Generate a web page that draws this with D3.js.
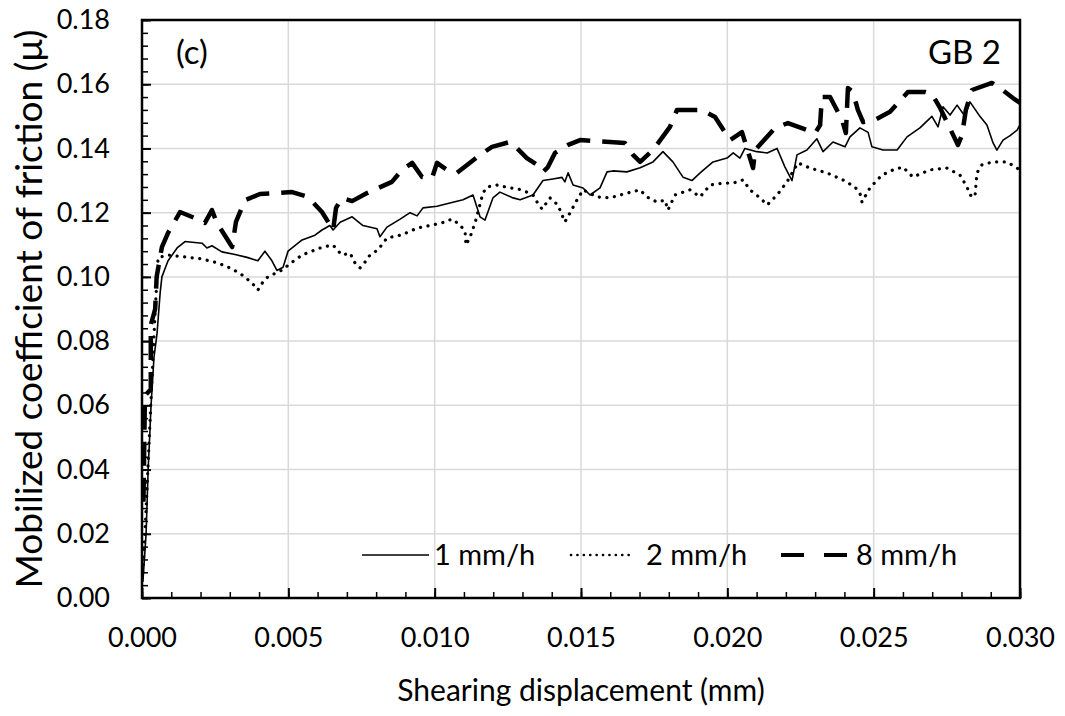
<!DOCTYPE html>
<html>
<head>
<meta charset="utf-8">
<script src="https://cdn.jsdelivr.net/npm/d3@7"></script>
<style>
  body { margin: 0; background: #fff; }
  text { font-family: Lato, "Open Sans", sans-serif; fill: #000; }
</style>
</head>
<body>
<script>
// data: [displacement (mm), mobilized friction coefficient]
const rate1 = [
  [0.00003, 0.005], [0.00014, 0.02], [0.00021, 0.04], [0.00031, 0.06], [0.00041, 0.075],
  [0.00051, 0.082], [0.00062, 0.095], [0.00068, 0.100], [0.00089, 0.105], [0.0012, 0.109],
  [0.00147, 0.111], [0.00205, 0.1105], [0.00222, 0.109], [0.00239, 0.1097], [0.00273, 0.1078],
  [0.00318, 0.107], [0.00362, 0.106], [0.00396, 0.105], [0.0042, 0.108], [0.00444, 0.105],
  [0.00461, 0.102], [0.00482, 0.103], [0.00499, 0.108], [0.00547, 0.1115], [0.00591, 0.113],
  [0.00615, 0.1146], [0.00642, 0.116], [0.00653, 0.1146], [0.00677, 0.117], [0.00718, 0.1187],
  [0.00755, 0.116], [0.00803, 0.115], [0.00813, 0.1125], [0.00837, 0.1155], [0.00882, 0.118],
  [0.00916, 0.120], [0.0094, 0.119], [0.0096, 0.1215], [0.01008, 0.122], [0.01052, 0.123],
  [0.01097, 0.124], [0.01131, 0.1255], [0.01155, 0.1187], [0.01172, 0.1177], [0.01199, 0.1246],
  [0.01223, 0.1264], [0.01268, 0.1246], [0.01292, 0.124], [0.01336, 0.1255], [0.0137, 0.130],
  [0.01404, 0.1305], [0.01435, 0.131], [0.01445, 0.1296], [0.01456, 0.1324], [0.01473, 0.1286],
  [0.01507, 0.1277], [0.01531, 0.1255], [0.01565, 0.1277], [0.01589, 0.1327], [0.01609, 0.133],
  [0.01657, 0.1327], [0.01702, 0.134], [0.01746, 0.1358], [0.0178, 0.139], [0.01814, 0.1358],
  [0.01849, 0.131], [0.01879, 0.130], [0.01907, 0.1324], [0.01951, 0.1358], [0.01999, 0.137],
  [0.0202, 0.1386], [0.02043, 0.137], [0.0206, 0.140], [0.02101, 0.139], [0.02136, 0.1386],
  [0.0217, 0.140], [0.02197, 0.1342], [0.02221, 0.130], [0.02238, 0.138], [0.02272, 0.1395],
  [0.02306, 0.143], [0.02327, 0.139], [0.02361, 0.142], [0.02402, 0.1405], [0.02419, 0.1436],
  [0.02453, 0.1464], [0.02481, 0.145], [0.02494, 0.1405], [0.02532, 0.1395], [0.0258, 0.1395],
  [0.02614, 0.1436], [0.02658, 0.1464], [0.02699, 0.150], [0.0272, 0.1467], [0.02737, 0.153],
  [0.02761, 0.1504], [0.02785, 0.1535], [0.02812, 0.150], [0.02829, 0.1545], [0.02863, 0.150],
  [0.02887, 0.1473], [0.02908, 0.1417], [0.02921, 0.1395], [0.02942, 0.1426], [0.02966, 0.144],
  [0.0299, 0.1457], [0.0300, 0.1473]
];

const rate2 = [
  [0.00003, 0.008], [0.0001, 0.02], [0.0002, 0.04], [0.0003, 0.06], [0.0004, 0.08],
  [0.0005, 0.098], [0.00055, 0.106], [0.00089, 0.1068], [0.00147, 0.1062], [0.00205, 0.1056],
  [0.0026, 0.1043], [0.00308, 0.1025], [0.00342, 0.1006], [0.00376, 0.0981], [0.00396, 0.0959],
  [0.00413, 0.0984], [0.0043, 0.100], [0.00478, 0.1021], [0.00513, 0.1046], [0.00547, 0.1068],
  [0.00591, 0.1084], [0.00618, 0.1093], [0.00653, 0.1099], [0.00683, 0.1068], [0.00711, 0.1074],
  [0.00728, 0.1043], [0.00745, 0.1028], [0.00762, 0.1046], [0.00779, 0.1068], [0.00806, 0.1084],
  [0.00837, 0.1121], [0.00888, 0.1131], [0.0094, 0.1152], [0.00994, 0.1162], [0.01035, 0.1171],
  [0.01059, 0.118], [0.01087, 0.1162], [0.01104, 0.114], [0.01107, 0.1099], [0.01121, 0.1124],
  [0.01138, 0.1168], [0.01165, 0.1261], [0.01179, 0.128], [0.01213, 0.1286], [0.01257, 0.1277],
  [0.01285, 0.1274], [0.01315, 0.1264], [0.01336, 0.1255], [0.0135, 0.1233], [0.01367, 0.1211],
  [0.01394, 0.1246], [0.01421, 0.1224], [0.01445, 0.1171], [0.01462, 0.1199], [0.01486, 0.1239],
  [0.01507, 0.1271], [0.01555, 0.1249], [0.01599, 0.1246], [0.01657, 0.1261], [0.01702, 0.1271],
  [0.01725, 0.1249], [0.0176, 0.1233], [0.01787, 0.1239], [0.01797, 0.1208], [0.01821, 0.1255],
  [0.01872, 0.1271], [0.01907, 0.1249], [0.01941, 0.1286], [0.01985, 0.1292], [0.0202, 0.1292],
  [0.02054, 0.1302], [0.02077, 0.1271], [0.02112, 0.1246], [0.02136, 0.1224], [0.0217, 0.1255],
  [0.02204, 0.1296], [0.02241, 0.1355], [0.02282, 0.1339], [0.0234, 0.1324], [0.02395, 0.1302],
  [0.02436, 0.128], [0.02453, 0.1261], [0.0246, 0.1233], [0.02487, 0.1277], [0.02528, 0.1317],
  [0.02566, 0.1333], [0.026, 0.1342], [0.02634, 0.1311], [0.02692, 0.1333], [0.0275, 0.1339],
  [0.02795, 0.1317], [0.02819, 0.128], [0.02829, 0.1255], [0.02846, 0.1249], [0.02853, 0.1324],
  [0.0287, 0.1349], [0.02908, 0.1358], [0.02956, 0.1358], [0.0300, 0.1333]
];

const rate8 = [
  [0.00005, 0.03], [0.0001, 0.063], [0.0003, 0.065], [0.0003, 0.085], [0.00045, 0.09],
  [0.0005, 0.10], [0.00068, 0.1093], [0.00089, 0.1137], [0.0013, 0.1202], [0.00181, 0.1183],
  [0.00215, 0.1168], [0.00239, 0.1208], [0.00256, 0.1168], [0.00308, 0.1093], [0.00321, 0.1171],
  [0.00352, 0.1239], [0.00403, 0.1258], [0.00513, 0.1264], [0.00567, 0.1249], [0.00615, 0.1202],
  [0.00653, 0.1146], [0.00663, 0.1215], [0.00683, 0.1246], [0.00718, 0.1236], [0.00769, 0.1261],
  [0.00854, 0.1296], [0.00888, 0.1333], [0.00923, 0.1355], [0.00957, 0.1311], [0.00991, 0.1308],
  [0.01008, 0.1355], [0.01042, 0.1333], [0.01076, 0.1324], [0.01155, 0.138], [0.01196, 0.1405],
  [0.01257, 0.142], [0.01281, 0.1401], [0.01315, 0.137], [0.0135, 0.1349], [0.0137, 0.1327],
  [0.01387, 0.1342], [0.01411, 0.1386], [0.01456, 0.1411], [0.01497, 0.1426], [0.01599, 0.142],
  [0.0165, 0.1417], [0.01678, 0.138], [0.01702, 0.1358], [0.01746, 0.1395], [0.01804, 0.1467],
  [0.01828, 0.152], [0.01913, 0.152], [0.01958, 0.1498], [0.02009, 0.1426], [0.0205, 0.1451],
  [0.02088, 0.1339], [0.02095, 0.1395], [0.02163, 0.1464], [0.02207, 0.1479], [0.023, 0.1448],
  [0.02317, 0.1473], [0.02323, 0.156], [0.02351, 0.156], [0.02392, 0.1489], [0.02405, 0.1448],
  [0.02412, 0.1588], [0.02429, 0.1576], [0.02446, 0.152], [0.02464, 0.1482], [0.02505, 0.1489],
  [0.02556, 0.1514], [0.02617, 0.1576], [0.02675, 0.1576], [0.02699, 0.157], [0.02727, 0.1526],
  [0.02788, 0.1411], [0.02802, 0.1442], [0.02815, 0.152], [0.02836, 0.1582], [0.02904, 0.1604],
  [0.02932, 0.1588], [0.02976, 0.1557], [0.0300, 0.1542]
];

const seriesNames = ["1 mm/h", "2 mm/h", "8 mm/h"];
const xTicks = [0, 0.005, 0.010, 0.015, 0.020, 0.025, 0.030];
const yTicks = [0, 0.02, 0.04, 0.06, 0.08, 0.10, 0.12, 0.14, 0.16, 0.18];

const w = 1065;
const h = 716;
const margin = { top: 20, right: 45, bottom: 118, left: 142 };
const innerWidth = w - margin.left - margin.right;
const innerHeight = h - margin.top - margin.bottom;

const svg = d3.select("body").append("svg")
    .attr("width", w)
    .attr("height", h);

const xScale = d3.scaleLinear().domain([0, 0.030]).range([0, innerWidth]);
const yScale = d3.scaleLinear().domain([0, 0.18]).range([innerHeight, 0]);

const g = svg.append("g")
    .attr("transform", `translate(${margin.left},${margin.top})`);

// gridlines
g.append("g").selectAll("line")
    .data(xTicks.slice(1, -1))
    .enter().append("line")
    .attr("x1", d => xScale(d)).attr("x2", d => xScale(d))
    .attr("y1", 0).attr("y2", innerHeight)
    .attr("stroke", "#d9d9d9").attr("stroke-width", 1.5);

g.append("g").selectAll("line")
    .data(yTicks.slice(1, -1))
    .enter().append("line")
    .attr("y1", d => yScale(d)).attr("y2", d => yScale(d))
    .attr("x1", 0).attr("x2", innerWidth)
    .attr("stroke", "#d9d9d9").attr("stroke-width", 1.5);

// minor ticks (inside)
const xMinor = d3.range(0, 31).map(i => i * 0.001);
const yMinor = d3.range(0, 46).map(i => i * 0.004);

const xMinorAxis = d3.axisTop(xScale).tickValues(xMinor).tickSize(6).tickFormat("");
const yMinorAxis = d3.axisRight(yScale).tickValues(yMinor).tickSize(6).tickFormat("");

g.append("g").attr("transform", `translate(0,${innerHeight})`).call(xMinorAxis)
    .call(a => a.select(".domain").remove())
    .call(a => a.selectAll("text").remove())
    .selectAll("line").attr("stroke-width", 1.5);
g.append("g").call(yMinorAxis)
    .call(a => a.select(".domain").remove())
    .call(a => a.selectAll("text").remove())
    .selectAll("line").attr("stroke-width", 1.5);

// major ticks inside + labels outside
const xAxis = d3.axisBottom(xScale).tickValues(xTicks).tickSizeInner(-10).tickSizeOuter(0)
    .tickPadding(30).tickFormat(d3.format(".3f"));
const yAxis = d3.axisLeft(yScale).tickValues(yTicks).tickSizeInner(-9).tickSizeOuter(0)
    .tickPadding(32).tickFormat(d3.format(".2f"));

const xAxisG = g.append("g").attr("transform", `translate(0,${innerHeight})`).call(xAxis);
const yAxisG = g.append("g").call(yAxis);

[xAxisG, yAxisG].forEach(a => {
    a.select(".domain").remove();
    a.selectAll("line").attr("stroke-width", 2);
    a.selectAll("text").style("font-size", "27px").attr("font-family", "Lato");
});

// frame
g.append("rect")
    .attr("x", 0).attr("y", 0)
    .attr("width", innerWidth).attr("height", innerHeight)
    .attr("fill", "none").attr("stroke", "#000").attr("stroke-width", 2.5);

// lines
svg.append("clipPath").attr("id", "plotClip")
    .append("rect").attr("width", innerWidth).attr("height", innerHeight);

const line = d3.line().x(d => xScale(d[0])).y(d => yScale(d[1]));

const styles = [
    { width: 1.6, dash: null, cap: "butt" },
    { width: 3.2, dash: "0.1 7.5", cap: "round" },
    { width: 4.5, dash: "24 12", cap: "butt" }
];

const plot = g.append("g").attr("clip-path", "url(#plotClip)");
[rate1, rate2, rate8].forEach((s, i) => {
    plot.append("path")
        .datum(s)
        .attr("d", line)
        .attr("fill", "none")
        .attr("stroke", "#000")
        .attr("stroke-width", styles[i].width)
        .attr("stroke-dasharray", styles[i].dash)
        .attr("stroke-linecap", styles[i].cap)
        .attr("stroke-linejoin", "round");
});

// legend
const legendItems = [
    { x1: 362, x2: 429, tx: 434, width: 1.6, dash: null, cap: "butt" },
    { x1: 571, x2: 634, tx: 646, width: 2.6, dash: "0.1 6.3", cap: "round" },
    { x1: 781, x2: 851, tx: 856, width: 4, dash: "23 20", cap: "butt" }
];
const legend = svg.append("g");
seriesNames.forEach((name, i) => {
    const it = legendItems[i];
    legend.append("line")
        .attr("x1", it.x1).attr("x2", it.x2)
        .attr("y1", 555).attr("y2", 555)
        .attr("stroke", "#000")
        .attr("stroke-width", it.width)
        .attr("stroke-dasharray", it.dash)
        .attr("stroke-linecap", it.cap);
    legend.append("text")
        .attr("x", it.tx).attr("y", 565)
        .style("font-size", "29px")
        .text(name);
});

// annotations
svg.append("text").attr("x", 176).attr("y", 64).style("font-size", "33px").text("(c)");
svg.append("text").attr("x", 1001).attr("y", 64).attr("text-anchor", "end")
    .style("font-size", "33px").text("GB 2");

// axis titles
svg.append("text")
    .attr("x", 581).attr("y", 701)
    .attr("text-anchor", "middle")
    .style("font-size", "30px")
    .text("Shearing displacement (mm)");

svg.append("text")
    .attr("transform", `translate(42,${margin.top + innerHeight / 2}) rotate(-90)`)
    .attr("text-anchor", "middle")
    .style("font-size", "37px")
    .text("Mobilized coefficient of friction (μ)");
</script>
</body>
</html>
